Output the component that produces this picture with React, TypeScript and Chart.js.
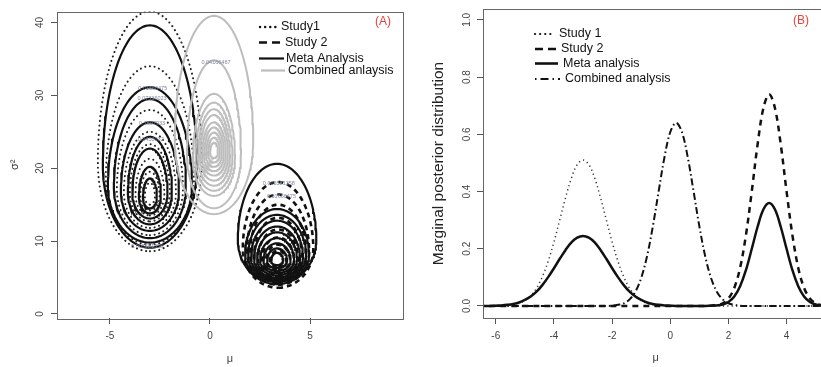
import React, { useEffect, useRef } from "react";
import { Chart, registerables } from "chart.js";

Chart.register(...registerables);

const FONT = '"Liberation Sans", Arial, Helvetica, sans-serif';

// ---------- Panel A: joint posterior contours of (mu, sigma^2) ----------
// each ring: lowest sigma^2, highest sigma^2, widest half-width in mu
const study1Mu = -3.0;
const study1Low = [8.6, 9.5, 10.8, 11.8, 12.7, 13.5, 14.2, 15.0];
const study1High = [41.5, 34.0, 28.0, 25.0, 23.3, 21.3, 19.5, 18.0];
const study1Half = [2.6, 2.2, 1.65, 1.3, 1.0, 0.72, 0.48, 0.25];

const metaAMu = -3.0;
const metaALow = [9.1, 9.8, 10.4, 11.4, 12.3, 13.1, 13.8, 14.5];
const metaAHigh = [39.6, 31.1, 29.5, 26.3, 24.3, 22.7, 20.2, 18.6];
const metaAHalf = [2.35, 2.1, 1.8, 1.45, 1.1, 0.88, 0.55, 0.35];

const combinedMu = 0.2;
const combinedLow = [13.7, 14.5, 16.2, 16.9, 17.6, 18.3, 19.0, 19.6, 20.2, 20.8, 21.4];
const combinedHigh = [40.9, 34.8, 30.2, 29.0, 28.1, 27.3, 26.3, 25.6, 24.9, 24.2, 23.5];
const combinedHalf = [1.96, 1.35, 1.05, 0.92, 0.8, 0.7, 0.6, 0.5, 0.4, 0.3, 0.2];

const study2Mu = 3.4;
const study2Low = [3.6, 4.0, 4.3, 4.7, 5.1, 5.5, 6.0, 6.5];
const study2High = [18.1, 16.4, 15.0, 13.2, 11.6, 10.5, 9.5, 8.7];
const study2Half = [1.76, 1.55, 1.4, 1.2, 1.0, 0.8, 0.6, 0.4];

const metaBMu = 3.35;
const metaBLow = [4.1, 4.4, 4.6, 4.8, 5.0, 5.3, 5.6, 5.9, 6.3, 6.7];
const metaBHigh = [20.6, 14.4, 13.6, 12.8, 12.0, 11.2, 10.4, 9.7, 9.0, 8.4];
const metaBHalf = [1.96, 1.6, 1.45, 1.3, 1.15, 1.0, 0.85, 0.68, 0.5, 0.3];

const contourLabelText = ["0.01666475", "0.07336023", "0.1607933", "0.2453032", "0.005581358", "0.04166467", "0.005581358", "0.01666475"];
const contourLabelMu = [-2.86, -2.89, -2.89, -2.96, -3.14, 0.3, 3.44, 3.57];
const contourLabelSigma2 = [31.0, 29.55, 26.1, 23.9, 9.2, 34.5, 17.9, 16.15];

const panelAXTicks = [-5, 0, 5];
const panelAYTicks = [0, 10, 20, 30, 40];

// ---------- Panel B: marginal posterior of mu ----------
const muGrid = [
  -6.6, -6.4, -6.2, -6.0, -5.8, -5.6, -5.4, -5.2, -5.0, -4.8,
  -4.6, -4.4, -4.2, -4.0, -3.8, -3.6, -3.4, -3.2, -3.0, -2.8,
  -2.6, -2.4, -2.2, -2.0, -1.8, -1.6, -1.4, -1.2, -1.0, -0.8,
  -0.6, -0.4, -0.2, 0.0, 0.2, 0.4, 0.6, 0.8, 1.0, 1.2,
  1.4, 1.6, 1.8, 2.0, 2.2, 2.4, 2.6, 2.8, 3.0, 3.2,
  3.4, 3.6, 3.8, 4.0, 4.2, 4.4, 4.6, 4.8, 5.0, 5.2,
  5.4, 5.6,
];
const study1Density = [
  0, 0, 0, 0, 0.001, 0.002, 0.004, 0.01, 0.019, 0.036,
  0.062, 0.102, 0.156, 0.224, 0.301, 0.379, 0.447, 0.494, 0.51, 0.494,
  0.447, 0.379, 0.301, 0.224, 0.156, 0.102, 0.062, 0.036, 0.019, 0.01,
  0.004, 0.002, 0.001, 0, 0, 0, 0, 0, 0, 0,
  0, 0, 0, 0, 0, 0, 0, 0, 0, 0,
  0, 0, 0, 0, 0, 0, 0, 0, 0, 0,
  0, 0,
];
const study2Density = [
  0, 0, 0, 0, 0, 0, 0, 0, 0, 0,
  0, 0, 0, 0, 0, 0, 0, 0, 0, 0,
  0, 0, 0, 0, 0, 0, 0, 0, 0, 0,
  0, 0, 0, 0, 0, 0, 0, 0, 0, 0,
  0.001, 0.003, 0.009, 0.026, 0.063, 0.133, 0.247, 0.399, 0.563, 0.691,
  0.74, 0.691, 0.563, 0.399, 0.247, 0.133, 0.063, 0.026, 0.009, 0.003,
  0.001, 0,
];
const metaDensity = [
  0, 0, 0, 0.001, 0.002, 0.004, 0.007, 0.012, 0.021, 0.033,
  0.05, 0.073, 0.101, 0.132, 0.165, 0.196, 0.222, 0.239, 0.245, 0.239,
  0.222, 0.196, 0.165, 0.132, 0.101, 0.073, 0.05, 0.033, 0.021, 0.012,
  0.007, 0.004, 0.002, 0.001, 0, 0, 0, 0, 0, 0,
  0.001, 0.002, 0.005, 0.014, 0.033, 0.069, 0.125, 0.199, 0.276, 0.337,
  0.36, 0.337, 0.276, 0.199, 0.125, 0.069, 0.033, 0.014, 0.005, 0.002,
  0.001, 0,
];
const combinedDensity = [
  0, 0, 0, 0, 0, 0, 0, 0, 0, 0,
  0, 0, 0, 0, 0, 0, 0, 0, 0, 0,
  0, 0, 0, 0.001, 0.004, 0.009, 0.023, 0.05, 0.098, 0.174,
  0.278, 0.401, 0.52, 0.608, 0.64, 0.608, 0.52, 0.401, 0.278, 0.174,
  0.098, 0.05, 0.023, 0.009, 0.004, 0.001, 0, 0, 0, 0,
  0, 0, 0, 0, 0, 0, 0, 0, 0, 0,
  0, 0,
];

// closed contour through the read extents: a lower and an upper half-ellipse
// meeting at the widest level
function ring(c: number, lo: number, hi: number, half: number) {
  const p = 0.37;
  const mid = lo + p * (hi - lo);
  const pts: { x: number; y: number }[] = [];
  const n = 140;
  for (let j = 0; j <= n; j++) {
    const t = (2 * Math.PI * j) / n;
    const u = -Math.cos(t);
    const v = Math.sin(t);
    const y = u < 0 ? mid + u * (mid - lo) : mid + u * (hi - mid);
    pts.push({ x: c + half * v, y });
  }
  return pts;
}

function ringSets(c: number, lows: number[], highs: number[], halves: number[], style: any) {
  return lows.map((lo, i) => ({
    data: ring(c, lo, highs[i], halves[i]),
    showLine: true,
    pointRadius: 0,
    fill: false,
    tension: 0,
    ...style,
  }));
}

function legendRows(ctx: CanvasRenderingContext2D, rows: any[]) {
  ctx.save();
  ctx.font = `12.5px ${FONT}`;
  ctx.textBaseline = "middle";
  ctx.textAlign = "left";
  for (const r of rows) {
    ctx.beginPath();
    ctx.setLineDash(r.dash);
    ctx.lineWidth = r.width;
    ctx.strokeStyle = r.color;
    ctx.lineCap = r.cap || "butt";
    ctx.moveTo(r.x0, r.y);
    ctx.lineTo(r.x1, r.y);
    ctx.stroke();
    ctx.setLineDash([]);
    ctx.fillStyle = "#111";
    ctx.fillText(r.text, r.tx, r.y);
  }
  ctx.restore();
}

export default function App() {
  const leftRef = useRef<HTMLCanvasElement>(null);
  const rightRef = useRef<HTMLCanvasElement>(null);

  useEffect(() => {
    Chart.defaults.font.family = FONT;

    const dotted = { borderColor: "#222", borderWidth: 2, borderDash: [0.1, 4.6], borderCapStyle: "round" };
    const solid = { borderColor: "#111", borderWidth: 2.2, borderDash: [] };
    const dashed = { borderColor: "#111", borderWidth: 2.6, borderDash: [5, 4] };
    const grey = { borderColor: "#bdbdbd", borderWidth: 2, borderDash: [] };

    const leftDatasets = [
      ...ringSets(metaBMu, metaBLow, metaBHigh, metaBHalf, solid),
      ...ringSets(study2Mu, study2Low, study2High, study2Half, dashed),
      ...ringSets(combinedMu, combinedLow, combinedHigh, combinedHalf, grey),
      ...ringSets(metaAMu, metaALow, metaAHigh, metaAHalf, solid),
      ...ringSets(study1Mu, study1Low, study1High, study1Half, dotted),
    ];

    const tickFont = { size: 10, family: FONT };

    const leftDecor = {
      id: "leftDecor",
      afterDraw(chart: any) {
        const { ctx, chartArea } = chart;
        const { left, right, top, bottom } = chartArea;
        ctx.save();
        ctx.strokeStyle = "#666";
        ctx.lineWidth = 1;
        ctx.setLineDash([]);
        ctx.strokeRect(Math.round(left) + 0.5, Math.round(top) + 0.5, Math.round(right - left), Math.round(bottom - top));
        const xs = chart.scales.x;
        const ys = chart.scales.y;
        ctx.font = `5.5px ${FONT}`;
        ctx.textAlign = "center";
        ctx.textBaseline = "middle";
        ctx.fillStyle = "#7d8598";
        contourLabelText.forEach((t, i) => {
          ctx.fillText(t, xs.getPixelForValue(contourLabelMu[i]), ys.getPixelForValue(contourLabelSigma2[i]));
        });
        ctx.fillStyle = "#e8423c";
        ctx.font = `12px ${FONT}`;
        ctx.fillText("(A)", 383, 22);
        ctx.restore();
        legendRows(ctx, [
          { text: "Study1", x0: 260, x1: 278, y: 27, tx: 281, dash: [0.1, 5], width: 2.4, color: "#111", cap: "round" },
          { text: "Study 2", x0: 259, x1: 283, y: 42.5, tx: 285, dash: [8, 5], width: 2.6, color: "#111" },
          { text: "Meta Analysis", x0: 259, x1: 284, y: 58.5, tx: 286, dash: [], width: 2.2, color: "#111" },
          { text: "Combined anlaysis", x0: 261, x1: 285, y: 70.5, tx: 288, dash: [], width: 2.2, color: "#bdbdbd" },
        ]);
      },
    };

    const left = new Chart(leftRef.current!, {
      type: "scatter",
      data: { datasets: leftDatasets as any },
      options: {
        animation: false,
        responsive: false,
        maintainAspectRatio: false,
        layout: { padding: { top: 9, right: 7, left: 0, bottom: 0 } },
        plugins: { legend: { display: false }, tooltip: { enabled: false } },
        scales: {
          x: {
            type: "linear",
            min: -7.64,
            max: 9.64,
            afterBuildTicks: (s: any) => { s.ticks = panelAXTicks.map((v) => ({ value: v })); },
            ticks: { color: "#444", font: tickFont, padding: 6, minRotation: 0, maxRotation: 0 },
            grid: { drawOnChartArea: false, tickLength: 6, color: "#555" },
            border: { display: false },
            title: { display: true, text: "μ", color: "#444", font: { size: 11 }, padding: { top: 0, bottom: 1.5 } },
            afterFit: (s: any) => { s.height = 49; },
          },
          y: {
            type: "linear",
            min: -0.55,
            max: 41.5,
            afterBuildTicks: (s: any) => { s.ticks = panelAYTicks.map((v) => ({ value: v })); },
            ticks: { color: "#444", font: tickFont, padding: 5.5, minRotation: 90, maxRotation: 90, crossAlign: "center" },
            grid: { drawOnChartArea: false, tickLength: 6, color: "#555" },
            border: { display: false },
            title: { display: true, text: "σ²", color: "#333", font: { size: 11 }, padding: { top: 8.5, bottom: 0 } },
            afterFit: (s: any) => { s.width = 57; },
          },
        },
      } as any,
      plugins: [leftDecor],
    });

    const pts = (arr: number[]) => muGrid.map((m, i) => ({ x: m, y: arr[i] }));
    const lineBase = { showLine: true, pointRadius: 0, fill: false, tension: 0.35 };

    const rightDatasets = [
      { ...lineBase, data: pts(metaDensity), borderColor: "#111", borderWidth: 2.5, borderDash: [] },
      { ...lineBase, data: pts(study2Density), borderColor: "#111", borderWidth: 2.5, borderDash: [6, 5] },
      { ...lineBase, data: pts(combinedDensity), borderColor: "#111", borderWidth: 2, borderDash: [1.5, 3, 7, 3] },
      { ...lineBase, data: pts(study1Density), borderColor: "#333", borderWidth: 1.5, borderDash: [1.2, 3.2] },
    ];

    const rightDecor = {
      id: "rightDecor",
      afterDraw(chart: any) {
        const { ctx, chartArea } = chart;
        const { left, right, top, bottom } = chartArea;
        ctx.save();
        ctx.strokeStyle = "#666";
        ctx.lineWidth = 1;
        ctx.setLineDash([]);
        ctx.strokeRect(Math.round(left) + 0.5, Math.round(top) + 0.5, Math.round(right - left), Math.round(bottom - top));
        ctx.fillStyle = "#e8423c";
        ctx.font = `12px ${FONT}`;
        ctx.textAlign = "center";
        ctx.textBaseline = "middle";
        ctx.fillText("(B)", 391, 21);
        ctx.restore();
        legendRows(ctx, [
          { text: "Study 1", x0: 125, x1: 144, y: 34, tx: 149, dash: [0.1, 5], width: 2.2, color: "#111", cap: "round" },
          { text: "Study 2", x0: 125, x1: 148, y: 49, tx: 151, dash: [8, 5], width: 2.6, color: "#111" },
          { text: "Meta analysis", x0: 125, x1: 148, y: 63.5, tx: 153, dash: [], width: 2.6, color: "#111" },
          { text: "Combined analysis", x0: 125, x1: 150, y: 79, tx: 155, dash: [1.5, 4, 8, 4], width: 2.2, color: "#111" },
        ]);
      },
    };

    const right = new Chart(rightRef.current!, {
      type: "scatter",
      data: { datasets: rightDatasets as any },
      options: {
        animation: false,
        responsive: false,
        maintainAspectRatio: false,
        layout: { padding: { top: 9, right: 6.5, left: 0, bottom: 0 } },
        plugins: { legend: { display: false }, tooltip: { enabled: false } },
        scales: {
          x: {
            type: "linear",
            min: -6.44,
            max: 5.44,
            ticks: { stepSize: 2, includeBounds: false, color: "#444", font: tickFont, padding: 6, minRotation: 0, maxRotation: 0 },
            grid: { drawOnChartArea: false, tickLength: 6, color: "#555" },
            border: { display: false },
            title: { display: true, text: "μ", color: "#444", font: { size: 11 }, padding: { top: 0, bottom: 2.5 } },
            afterFit: (s: any) => { s.height = 49; },
          },
          y: {
            type: "linear",
            min: -0.042,
            max: 1.038,
            ticks: {
              stepSize: 0.2,
              includeBounds: false,
              color: "#444",
              font: tickFont,
              padding: 3,
              minRotation: 90,
              maxRotation: 90,
              crossAlign: "center",
              callback: (v: any) => Number(v).toFixed(1),
            },
            grid: { drawOnChartArea: false, tickLength: 6, color: "#555" },
            border: { display: false },
            title: { display: true, text: "Marginal posterior distribution", color: "#222", font: { size: 15.5 }, padding: { top: 19.5, bottom: 0 } },
            afterFit: (s: any) => { s.width = 73; },
          },
        },
      } as any,
      plugins: [rightDecor],
    });

    return () => {
      left.destroy();
      right.destroy();
    };
  }, []);

  return (
    <div style={{ position: "fixed", left: 0, top: 0, width: 821, height: 367, overflow: "hidden", background: "#fff" }}>
      <canvas ref={leftRef} width={410} height={367} style={{ position: "absolute", left: 0, top: 0, width: 410, height: 367 }} />
      <canvas ref={rightRef} width={425} height={367} style={{ position: "absolute", left: 410, top: 0, width: 425, height: 367 }} />
    </div>
  );
}
